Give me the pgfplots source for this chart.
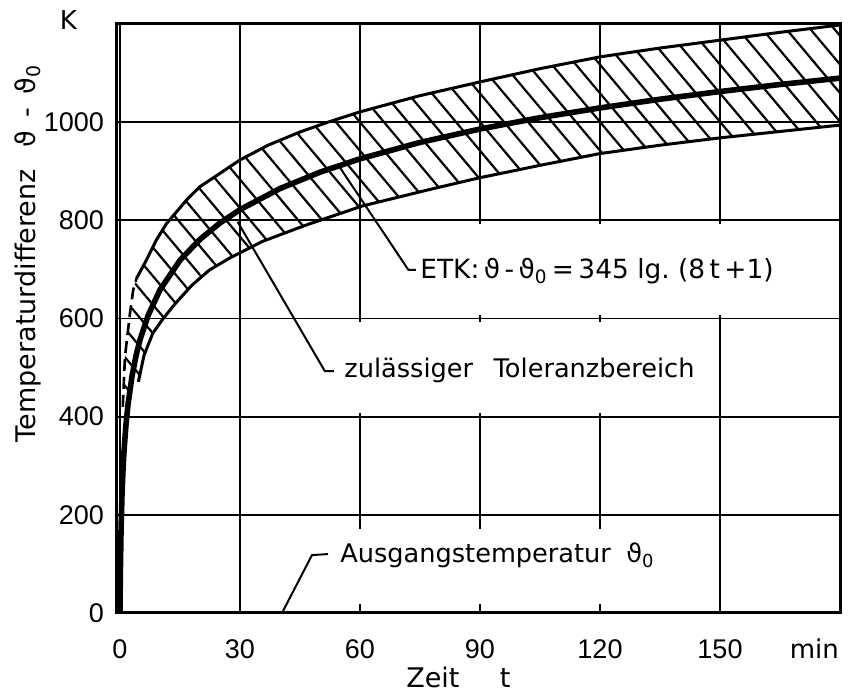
\documentclass[border=0pt]{standalone}
\usepackage{fontspec}
\setmainfont{DejaVu Sans}
\newfontfamily\tickfont{Liberation Sans}
\usepackage{pgfplots}
\pgfplotsset{compat=1.18}
\usepgfplotslibrary{fillbetween}
\usetikzlibrary{patterns.meta}

\begin{document}
\begin{tikzpicture}
\begin{axis}[
  at={(0,0)}, anchor=south west,
  scale only axis, width=361.5pt, height=294.5pt,
  xmin=-0.75, xmax=180, ymin=0, ymax=1200,
  xtick={0,30,60,90,120,150}, ytick={0,200,400,600,800,1000},
  grid=major, major grid style={black, line width=0.9pt},
  major tick length=0pt,
  axis line style={line width=1.5pt},
  ticklabel style={font=\tickfont\fontsize{13.5}{15}\selectfont},
  /pgf/number format/assume math mode=true,
  /pgf/number format/1000 sep={},
  xticklabel style={yshift=-10pt},
  yticklabel style={xshift=-3pt},
  clip=false,
]
% upper tolerance limit (dashed start + solid)
\addplot[name path=up, draw=none, forget plot] coordinates {
(0.7,420) (1.24,522) (2.5,611) (3.3,658) (4.15,682) (6.6,719) (9.1,760) (11.6,793)
(16.6,841) (19.9,868) (30,923) (37,953) (45,980) (52,1000) (60,1021) (75,1054)
(90,1082) (105,1109) (120,1133) (135,1151) (150,1167) (165,1183) (180,1198)};
% lower tolerance limit
\addplot[name path=lo, black, line width=1.5pt] coordinates {
(4.6,471) (6,525) (8.2,570) (10.8,600) (14,632) (18,668) (22.4,699) (27.4,723)
(35.6,757) (46.4,790) (60.5,829) (77,862) (89.5,886) (105,912) (120,936)
(135,953) (150,968) (165,981) (180,994)};
% hatching
\addplot[draw=none, pattern={Lines[angle=-50,distance=9.2pt,line width=1.1pt]}]
  fill between[of=up and lo];
% upper limit drawn
\addplot[black, line width=1.3pt, dash pattern=on 6pt off 3pt] coordinates {
(0.7,420) (1.24,522) (2.5,611) (3.3,658) (4.15,682)};
\addplot[black, line width=1.5pt] coordinates {
(4.15,682) (6.6,719) (9.1,760) (11.6,793)
(16.6,841) (19.9,868) (30,923) (37,953) (45,980) (52,1000) (60,1021) (75,1054)
(90,1082) (105,1109) (120,1133) (135,1151) (150,1167) (165,1183) (180,1198)};
% ETK
\addplot[black, line width=2.8pt] coordinates {
(0,0) (0.05,50.4) (0.1,88.1) (0.25,164.6) (0.5,241.1) (0.75,291.6) (1,329.2)
(1.5,384.3) (2,424.5) (3,482.3) (4,523.9) (5,556.4) (7,605.8) (10,658.4)
(15,718.6) (20,761.3) (25,794.6) (30,821.8) (40,864.7) (50,898.1) (60,925.3)
(75,958.7) (90,986.0) (105,1009.1) (120,1029.0) (135,1046.7) (150,1062.4)
(165,1076.7) (180,1089.7)};

% white label fields that interrupt the grid
\fill[white] (axis cs:61.5,608) rectangle (axis cs:179,792);
\fill[white] (axis cs:31.5,408) rectangle (axis cs:148.5,592);
\fill[white] (axis cs:53,18) rectangle (axis cs:135,172);

% labels
\node[anchor=west, inner sep=0pt, font=\fontsize{13.2}{15}\selectfont]
  at (axis cs:75,697) {ETK:\,ϑ\,-\,ϑ\textsubscript{0}\,=\,345 lg.\ (8\,t\,+1)};
\draw[line width=1pt] (axis cs:54.7,911) -- (axis cs:72.1,699) -- (axis cs:74,699);

\node[anchor=west, inner sep=0pt, font=\fontsize{12.8}{15}\selectfont]
  at (axis cs:56,495) {zulässiger\hspace{0.8em}Toleranzbereich};
\draw[line width=1pt] (axis cs:29.4,797) -- (axis cs:51.2,493) -- (axis cs:53.5,493);

\node[anchor=west, inner sep=0pt, font=\fontsize{12.8}{15}\selectfont]
  at (axis cs:55,118) {Ausgangstemperatur\hspace{0.6em}ϑ\textsubscript{0}};
\draw[line width=1pt] (axis cs:40.5,0) -- (axis cs:48,118) -- (axis cs:52,120);

\node[font=\fontsize{13}{15}\selectfont] at (axis cs:173.6,-73) {min};
\node[font=\fontsize{13.5}{15}\selectfont] at (axis cs:84.6,-132) {Zeit\hspace{1.5em}t};
\node[font=\fontsize{13}{15}\selectfont] at (axis cs:-12.9,1208) {K};
\node[rotate=90, font=\fontsize{13.5}{15}\selectfont]
  at (axis cs:-22.9,733)
  {Temperaturdifferenz\hspace{0.8em}ϑ\hspace{0.5em}-\hspace{0.5em}ϑ\textsubscript{0}};
\end{axis}
\path (-58.5pt,-41pt) rectangle (368pt,306.5pt);
\end{tikzpicture}
\end{document}
